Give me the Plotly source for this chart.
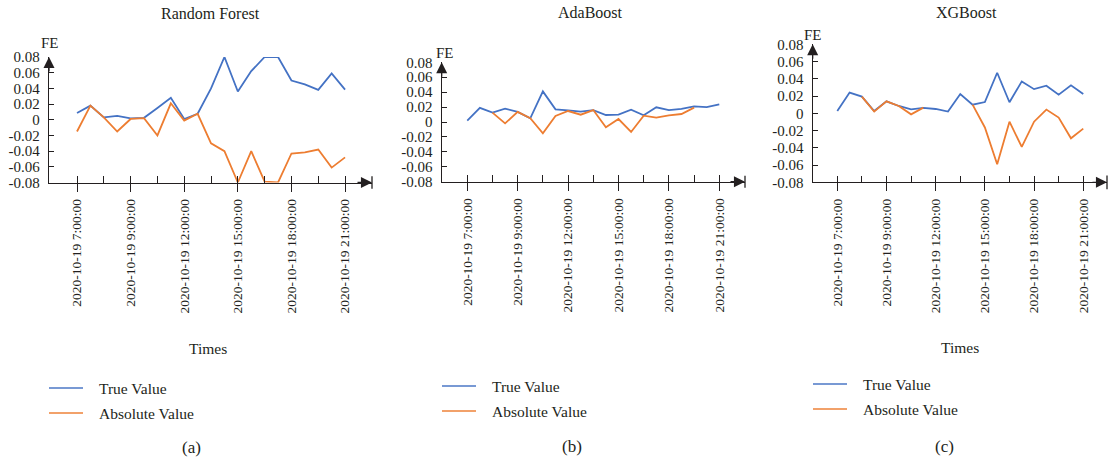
import plotly.graph_objects as go

# ---------------- data ----------------
tick_positions = [0, 4, 8, 12, 16, 20]
tick_labels = ["2020-10-19 7:00:00", "2020-10-19 9:00:00", "2020-10-19 12:00:00",
               "2020-10-19 15:00:00", "2020-10-19 18:00:00", "2020-10-19 21:00:00"]
minor_positions = [0, 2, 4, 6, 8, 10, 12, 14, 16, 18, 20]
x_index = list(range(21))

rf_true = [0.0085, 0.018, 0.003, 0.005, 0.0017, 0.0025, 0.015, 0.028, 0.001, 0.0076, 0.040,
           0.080, 0.036, 0.062, 0.080, 0.080, 0.050, 0.045, 0.038, 0.059, 0.0385]
rf_abs = [-0.015, 0.018, 0.003, -0.015, 0.001, 0.002, -0.020, 0.021, -0.001, 0.0076, -0.030,
          -0.040, -0.080, -0.040, -0.079, -0.080, -0.043, -0.0415, -0.038, -0.061, -0.048]

ada_true = [0.002, 0.019, 0.0125, 0.018, 0.0135, 0.005, 0.041, 0.017, 0.0157, 0.014, 0.016,
            0.0094, 0.0098, 0.0165, 0.009, 0.0197, 0.016, 0.0175, 0.021, 0.020, 0.0237]
ada_abs = [None, None, 0.0125, -0.0018, 0.0135, 0.005, -0.0152, 0.008, 0.0147, 0.0098, 0.016,
           -0.0072, 0.004, -0.0134, 0.0085, 0.0058, 0.009, 0.0107, 0.0192, None, None]

xgb_true = [0.0027, 0.024, 0.0193, 0.0027, 0.0139, 0.0085, 0.0046, 0.0062, 0.005, 0.002, 0.0224,
            0.010, 0.013, 0.047, 0.0128, 0.037, 0.028, 0.032, 0.0216, 0.0325, 0.0224]
xgb_abs = [None, None, 0.0193, 0.002, 0.0139, 0.0085, -0.0012, 0.0066, None, None, None,
           0.010, -0.0164, -0.059, -0.0097, -0.039, -0.0097, 0.0043, -0.005, -0.029, -0.0178]

titles = ["Random Forest", "AdaBoost", "XGBoost"]
captions = ["(a)", "(b)", "(c)"]
series_names = ["True Value", "Absolute Value"]
y_ticks = [-0.08, -0.06, -0.04, -0.02, 0, 0.02, 0.04, 0.06, 0.08]
y_ticktext = ["-0.08", "-0.06", "-0.04", "-0.02", "0", "0.02", "0.04", "0.06", "0.08"]

# ---------------- styling ----------------
W, H = 1108, 462
OFF = 0  # body margin is removed in the page (post_script below)
FONT = "Liberation Serif, Times New Roman, serif"
TXT = "#231f20"
BLUE = "#4472C4"
ORANGE = "#ED7D31"
BLUE_LEG = "rgba(68,114,196,0.72)"
ORANGE_LEG = "rgba(237,125,49,0.72)"

def px(x):
    return (x - OFF) / W

def py(y):
    return 1 - (y - OFF) / H

# panel geometry in screen pixels: axis left, axis right, y top(0.08), y bottom(-0.08); x ranges
panels = [
    dict(l=49, r=372, t=57, b=182.5, xr=[-2.09, 22.01]),
    dict(l=441.7, r=745, t=62.3, b=181.7, xr=[-2.03, 22.04]),
    dict(l=812.7, r=1107, t=44.3, b=182.3, xr=[-2.0, 21.93]),
]
data_sets = [(rf_true, rf_abs), (ada_true, ada_abs), (xgb_true, xgb_abs)]

fig = go.Figure()

for i, (tr, ab) in enumerate(data_sets):
    sx = "" if i == 0 else str(i + 1)
    fig.add_trace(go.Scatter(x=x_index, y=tr, mode="lines", name=series_names[0],
                             line=dict(color=BLUE, width=1.8), xaxis="x" + sx, yaxis="y" + sx,
                             showlegend=False, connectgaps=False))
    fig.add_trace(go.Scatter(x=x_index, y=ab, mode="lines", name=series_names[1],
                             line=dict(color=ORANGE, width=1.8), xaxis="x" + sx, yaxis="y" + sx,
                             showlegend=False, connectgaps=False))
    # empty trace on overlay axis carrying the small inside ticks
    fig.add_trace(go.Scatter(x=[], y=[], xaxis="x" + str(i + 4), yaxis="y" + sx,
                             showlegend=False, hoverinfo="skip"))

layout = dict(
    template="none",
    width=W, height=H, autosize=False,
    margin=dict(l=0, r=0, t=0, b=0, pad=0),
    paper_bgcolor="white", plot_bgcolor="white",
    font=dict(family=FONT, color=TXT, size=14),
    showlegend=False,
)

shapes = []
annotations = []
legend_pos = [(49, 388), (442, 386), (813, 384)]

for i, p in enumerate(panels):
    sx = "" if i == 0 else str(i + 1)
    xdom = [px(p["l"]), min(px(p["r"]), 1.0)]
    ydom = [py(p["b"]), py(p["t"])]
    layout["xaxis" + sx] = dict(
        domain=xdom, range=p["xr"], anchor="y" + sx, automargin=False,
        tickmode="array", tickvals=tick_positions, ticktext=tick_labels,
        tickangle=-90, ticks="outside", ticklen=8, tickwidth=1.3, tickcolor=TXT,
        showline=True, linecolor=TXT, linewidth=1.3, showgrid=False, zeroline=False,
        tickfont=dict(family=FONT, size=13.5, color=TXT), ticklabelstandoff=2,
    )
    layout["xaxis" + str(i + 4)] = dict(
        overlaying="x" + sx, anchor="y" + sx, range=p["xr"], side="bottom", automargin=False,
        tickmode="array", tickvals=minor_positions, ticks="inside", ticklen=6.5,
        tickwidth=1.3, tickcolor=TXT, showticklabels=False, showline=False,
        showgrid=False, zeroline=False,
    )
    layout["yaxis" + sx] = dict(
        domain=ydom, range=[-0.08, 0.08], anchor="x" + sx, automargin=False,
        tickmode="array", tickvals=y_ticks, ticktext=y_ticktext,
        ticks="inside", ticklen=5, tickwidth=1.3, tickcolor=TXT,
        showline=True, linecolor=TXT, linewidth=1.3, showgrid=False, zeroline=False,
        tickfont=dict(family=FONT, size=15, color=TXT), ticklabelstandoff=5,
    )
    # axis arrows
    annotations.append(dict(x=p["xr"][0], y=0.08, xref="x" + sx, yref="y" + sx,
                            ax=0, ay=16, text="", showarrow=True, arrowhead=2,
                            arrowsize=1.7, arrowwidth=1.3, arrowcolor=TXT))
    annotations.append(dict(x=p["xr"][1], y=-0.08, xref="x" + sx, yref="y" + sx,
                            ax=-16, ay=0, text="", showarrow=True, arrowhead=2,
                            arrowsize=1.7, arrowwidth=1.3, arrowcolor=TXT))
    shapes.append(dict(type="line", xref="x" + sx + " domain", yref="y" + sx + " domain",
                       x0=1, x1=1, y0=-0.05, y1=0.05, line=dict(color=TXT, width=1.3)))
    # legend (drawn as key lines + labels)
    lx, ly = legend_pos[i]
    for k, (nm, col) in enumerate(zip(series_names, [BLUE_LEG, ORANGE_LEG])):
        yy = ly + 25 * k
        shapes.append(dict(type="line", xref="paper", yref="paper",
                           x0=px(lx), x1=px(lx + 34), y0=py(yy), y1=py(yy),
                           line=dict(color=col, width=2)))
        annotations.append(dict(x=px(lx + 48), y=py(yy), xref="paper", yref="paper",
                                text=nm, showarrow=False, xanchor="left", yanchor="middle",
                                font=dict(family=FONT, size=15.5, color=TXT)))

title_pos = [(211, 14), (590, 13), (966, 13)]
fe_pos = [(49.5, 43), (445, 53), (813, 35)]
cap_pos = [(191, 447), (572, 446), (944, 446)]
times_pos = [(208, 348), None, (960, 347)]
for i in range(3):
    annotations.append(dict(x=px(title_pos[i][0]), y=py(title_pos[i][1]), xref="paper", yref="paper",
                            text=titles[i], showarrow=False, xanchor="center", yanchor="middle",
                            font=dict(family=FONT, size=16, color=TXT)))
    annotations.append(dict(x=px(fe_pos[i][0]), y=py(fe_pos[i][1]), xref="paper", yref="paper",
                            text="FE", showarrow=False, xanchor="center", yanchor="middle",
                            font=dict(family=FONT, size=15, color=TXT)))
    annotations.append(dict(x=px(cap_pos[i][0]), y=py(cap_pos[i][1]), xref="paper", yref="paper",
                            text=captions[i], showarrow=False, xanchor="center", yanchor="middle",
                            font=dict(family=FONT, size=17, color=TXT)))
    if times_pos[i] is not None:
        annotations.append(dict(x=px(times_pos[i][0]), y=py(times_pos[i][1]), xref="paper", yref="paper",
                                text="Times", showarrow=False, xanchor="center", yanchor="middle",
                                font=dict(family=FONT, size=15.5, color=TXT)))

layout["shapes"] = shapes
layout["annotations"] = annotations
fig.update_layout(**layout)
fig.write_html("out.html",
               config={"displayModeBar": False},
               post_script="document.body.style.margin='0';document.body.style.padding='0';")
